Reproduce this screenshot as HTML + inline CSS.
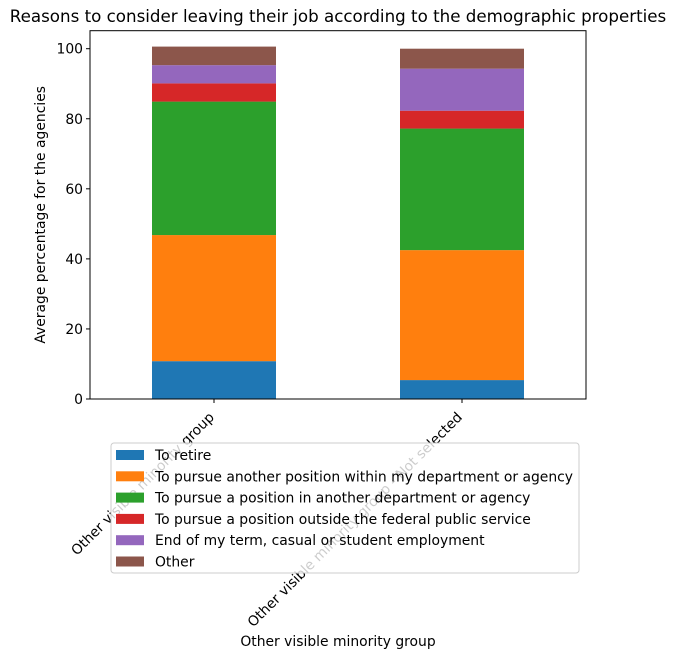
<!DOCTYPE html>
<html><head><meta charset="utf-8"><style>
body{margin:0;background:#fff;}
svg{display:block;font-family:"DejaVu Sans","Liberation Sans",sans-serif;}
</style></head><body>
<svg id="chart" width="675" height="658">
<text x="338" y="22" text-anchor="middle" font-size="16.7">Reasons to consider leaving their job according to the demographic properties</text>
<g id="bars"></g>
<g id="axes"></g>
</svg>
<script>
const categories = ["Other visible minority group", "Other visible minority group - Not selected"];
const seriesNames = ["To retire","To pursue another position within my department or agency","To pursue a position in another department or agency","To pursue a position outside the federal public service","End of my term, casual or student employment","Other"];
const sRetire = [10.8, 5.4];
const sWithin = [36.0, 37.1];
const sAnother = [38.1, 34.7];
const sOutside = [5.2, 5.1];
const sTerm = [5.2, 12.0];
const sOther = [5.3, 5.7];
const yTicks = [0,20,40,60,80,100];
const colors = ["#1f77b4","#ff7f0e","#2ca02c","#d62728","#9467bd","#8c564b"];
const series = [sRetire,sWithin,sAnother,sOutside,sTerm,sOther];
const NS="http://www.w3.org/2000/svg";
const L=90,R=586,T=30.7,B=399;
const y=v=>B-v*3.503;
const xc=i=>L+(i+0.5)*(R-L)/categories.length;
const bw=124;
function mk(tag,attrs,parent,txt){const e=document.createElementNS(NS,tag);for(const k in attrs)e.setAttribute(k,attrs[k]);if(txt!==undefined)e.textContent=txt;parent.appendChild(e);return e;}
const gb=document.getElementById('bars'), ga=document.getElementById('axes');
categories.forEach((c,i)=>{
  let acc=0;
  series.forEach((s,j)=>{
    const r=mk('rect',{x:xc(i)-bw/2,y:y(acc+s[i]),width:bw,height:y(acc)-y(acc+s[i]),fill:colors[j]},gb);
    
    
    acc+=s[i];
  });
  mk('line',{x1:xc(i),x2:xc(i),y1:B,y2:B+4,stroke:'#000'},ga);
  const t=mk('text',{x:0,y:0,'font-size':13.9,'text-anchor':'end',transform:`translate(${xc(i)+1},${B+19}) rotate(-45)`},ga,c);
  
  
});
yTicks.forEach(v=>{
  mk('line',{x1:L-4,x2:L,y1:y(v),y2:y(v),stroke:'#000'},ga);
  const t=mk('text',{x:L-7,y:y(v)+5,'font-size':13.9,'text-anchor':'end'},ga,v);
  
  
});
const fr=mk('rect',{x:L,y:T,width:R-L,height:B-T,fill:'none',stroke:'#000','stroke-width':1},ga);


const yl=mk('text',{x:0,y:0,'font-size':13.9,'text-anchor':'middle',transform:`translate(45,${(T+B)/2}) rotate(-90)`},ga,'Average percentage for the agencies');


const xl=mk('text',{x:338,y:646,'font-size':13.9,'text-anchor':'middle'},ga,'Other visible minority group');


const lg=mk('g',{},ga);


mk('rect',{x:111,y:443,width:468,height:130,rx:3,fill:'rgba(255,255,255,0.8)',stroke:'#ccc'},lg);
seriesNames.forEach((n,j)=>{
  const yy=455+j*21.3;
  const sw=mk('rect',{x:116,y:yy-5,width:28,height:10,fill:colors[j]},lg);
  
  
  const t=mk('text',{x:155,y:yy+5,'font-size':13.9},lg,n);
  
  
});
</script>
</body></html>
